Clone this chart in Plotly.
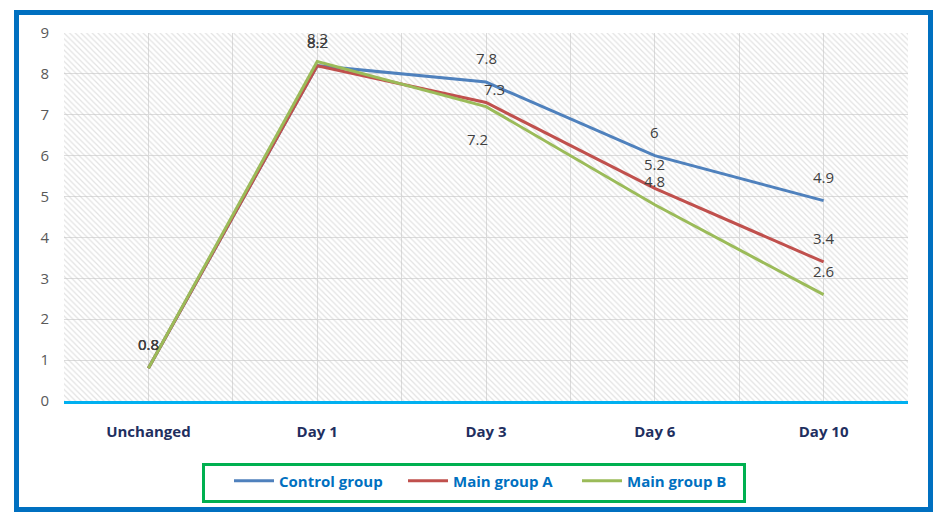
import plotly.graph_objects as go

categories = ["Unchanged", "Day 1", "Day 3", "Day 6", "Day 10"]
control_group = [0.8, 8.2, 7.8, 6.0, 4.9]
main_group_a = [0.8, 8.2, 7.3, 5.2, 3.4]
main_group_b = [0.8, 8.3, 7.2, 4.8, 2.6]
series_names = ["Control group", "Main group A", "Main group B"]
y_ticks = [0, 1, 2, 3, 4, 5, 6, 7, 8, 9]

series_values = [control_group, main_group_a, main_group_b]
colors = ["#4F81BD", "#C0504D", "#9BBB59"]
# label offsets in pixels (x, y) per series / point
label_xshift = [[0, 0, 0, 0, 0], [0, 0, 8, 0, 0], [0, 0, -9, 0, 0]]
label_yshift = [[24, 24, 24, 24, 24], [24, 24, 14, 24, 24], [24, 24, -32, 24, 24]]

W, H = 944, 521
ML, MR, MT, MB = 64, 36, 33, 120
PW, PH = W - ML - MR, H - MT - MB

x_idx = list(range(len(categories)))
y_min, y_max = y_ticks[0], y_ticks[-1]
x_lo, x_hi = x_idx[0] - 0.5, x_idx[-1] + 0.5

fig = go.Figure()

# hatched plot background
fig.add_trace(go.Scatter(
    x=[x_lo, x_hi, x_hi, x_lo, x_lo], y=[y_min, y_min, y_max, y_max, y_min],
    mode="lines", line=dict(width=0), fill="toself",
    fillcolor="rgba(0,0,0,0)",
    fillpattern=dict(shape="\\", fgcolor="#c6c6c6", bgcolor="rgba(0,0,0,0)", size=4, solidity=0.3),
    hoverinfo="skip", showlegend=False,
))

for name, vals, col in zip(series_names, series_values, colors):
    fig.add_trace(go.Scatter(
        x=x_idx, y=vals, mode="lines", name=name,
        line=dict(color=col, width=3),
    ))

annotations = []
for s, vals in enumerate(series_values):
    for j, v in enumerate(vals):
        annotations.append(dict(
            x=x_idx[j], y=v, text=f"{v:g}", showarrow=False,
            xshift=label_xshift[s][j], yshift=label_yshift[s][j],
            font=dict(family="Open Sans", size=15, color="#404040"),
        ))


def px_x(p):
    return (p - ML) / PW


def px_y(p):
    return (H - MB - p) / PH


fig.update_layout(
    width=W, height=H,
    margin=dict(l=ML, r=MR, t=MT, b=MB, autoexpand=False),
    paper_bgcolor="white", plot_bgcolor="white",
    annotations=annotations,
    showlegend=True,
    legend=dict(
        orientation="h", x=px_x(490), xanchor="center", y=px_y(481), yanchor="middle",
        borderwidth=0, bgcolor="rgba(0,0,0,0)",
        font=dict(family="Open Sans", size=15, color="#0070C0", weight="bold"),
        itemwidth=40, entrywidthmode="pixels", entrywidth=119,
    ),
    shapes=[
        dict(
            type="rect", xref="paper", yref="paper",
            x0=px_x(16.5), x1=px_x(930.5), y0=px_y(509.5), y1=px_y(12.5),
            line=dict(color="#0070C0", width=5), layer="above",
        ),
        dict(
            type="rect", xref="paper", yref="paper",
            x0=px_x(203.5), x1=px_x(744.5), y0=px_y(501.5), y1=px_y(464.5),
            line=dict(color="#00B050", width=3), layer="above",
        ),
    ],
    xaxis=dict(
        range=[x_lo, x_hi], tickvals=x_idx, ticktext=categories,
        showgrid=True, gridcolor="#dcdcdc", gridwidth=1,
        minor=dict(tick0=x_lo, dtick=1, showgrid=True, gridcolor="#dcdcdc", gridwidth=1),
        zeroline=False, showline=True, linecolor="#00B0F0", linewidth=3,
        ticks="", ticklabelstandoff=15,
        tickfont=dict(family="Open Sans", size=15, color="#1F2F5F", weight="bold"),
        fixedrange=True,
    ),
    yaxis=dict(
        range=[y_min, y_max], tickvals=y_ticks,
        showgrid=True, gridcolor="#dcdcdc", gridwidth=1,
        zeroline=False, showline=False, ticks="", ticklabelstandoff=14,
        tickfont=dict(family="Open Sans", size=15, color="#595959"),
        fixedrange=True,
    ),
)

fig.write_html("out.html", config={"displayModeBar": False},
               post_script="document.body.style.margin='0';")
